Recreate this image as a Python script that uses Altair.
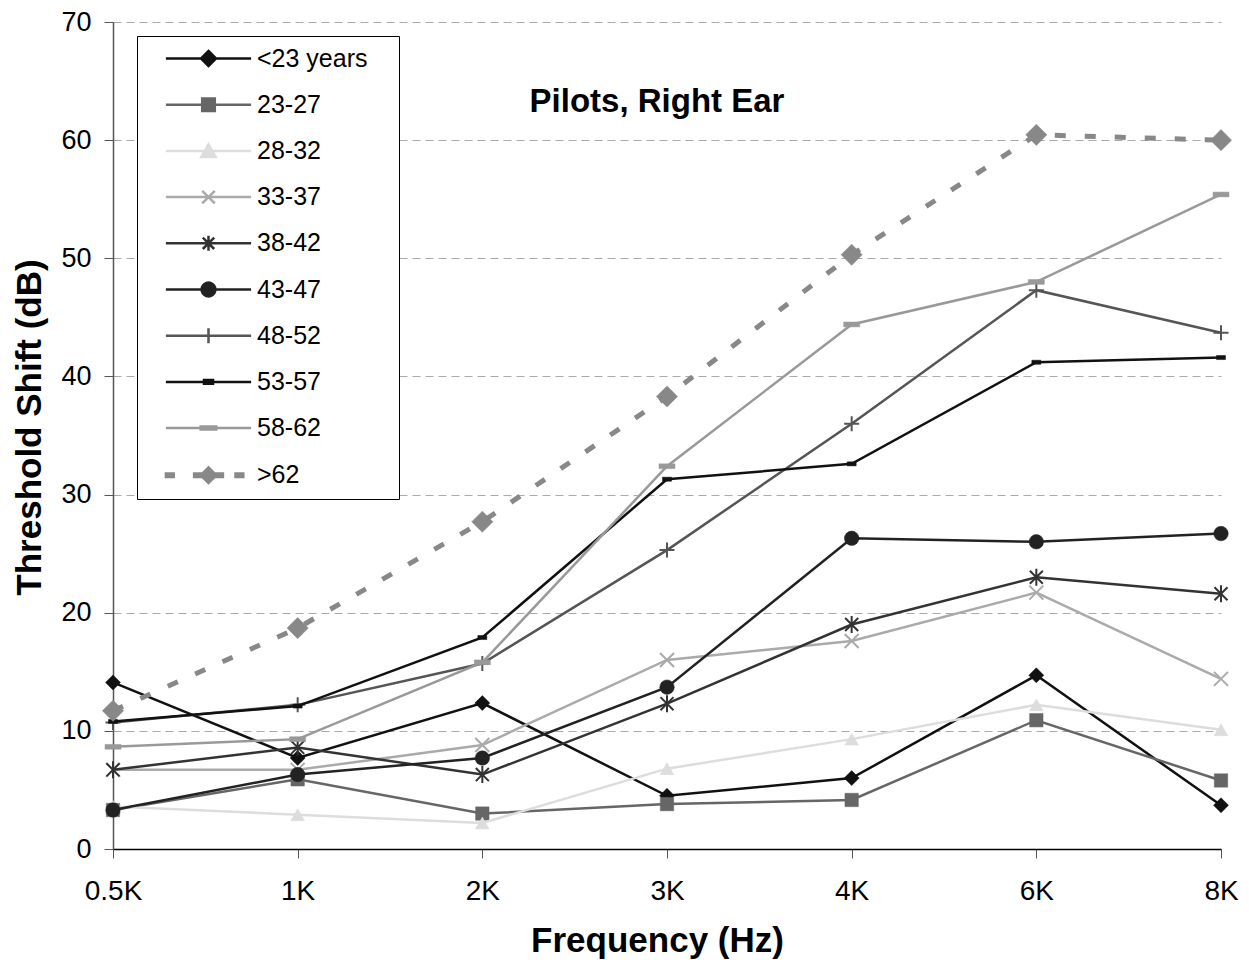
import altair as alt
import pandas as pd
import math

freqs = ["0.5K", "1K", "2K", "3K", "4K", "6K", "8K"]
series = ["<23 years", "23-27", "28-32", "33-37", "38-42", "43-47", "48-52", "53-57", "58-62", ">62"]

v_lt23 = [14.1, 7.7, 12.35, 4.5, 6.0, 14.7, 3.7]
v_23_27 = [3.3, 5.9, 3.0, 3.8, 4.15, 10.9, 5.8]
v_28_32 = [3.6, 2.9, 2.2, 6.8, 9.3, 12.2, 10.1]
v_33_37 = [6.7, 6.7, 8.8, 16.0, 17.6, 21.7, 14.4]
v_38_42 = [6.7, 8.6, 6.3, 12.3, 19.0, 23.0, 21.6]
v_43_47 = [3.3, 6.3, 7.7, 13.7, 26.3, 26.0, 26.7]
v_48_52 = [10.7, 12.2, 15.7, 25.3, 36.0, 47.3, 43.7]
v_53_57 = [10.8, 12.1, 17.9, 31.3, 32.6, 41.2, 41.6]
v_58_62 = [8.65, 9.3, 15.8, 32.4, 44.4, 48.0, 55.4]
v_gt62 = [11.7, 18.7, 27.7, 38.3, 50.3, 60.45, 60.0]

all_values = [v_lt23, v_23_27, v_28_32, v_33_37, v_38_42, v_43_47, v_48_52, v_53_57, v_58_62, v_gt62]

line_colors = ["#111111", "#666666", "#dddddd", "#aaaaaa", "#333333", "#222222", "#555555", "#111111", "#999999", "#888888"]

rows = []
for s, vals in zip(series, all_values):
    for i, (f, v) in enumerate(zip(freqs, vals)):
        rows.append({"freq": f, "series": s, "value": v, "idx": i})
df = pd.DataFrame(rows)

FONT = "Liberation Sans"

# marker styles for plot points
X_PATH = "M-1,-1L1,1M-1,1L1,-1"
AST_PATH = "M-1,-1L1,1M-1,1L1,-1M0,-1.3L0,1.3"
PLUS_PATH = "M-1,0L1,0M0,-1L0,1"
SMALL_DASH = "M-1,-0.45L1,-0.45L1,0.45L-1,0.45Z"
WIDE_DASH = "M-1,-0.3L1,-0.3L1,0.3L-1,0.3Z"
markers = [
    dict(shape="diamond", size=225, filled=True),
    dict(shape="square", size=180, filled=True),
    dict(shape="triangle-up", size=190, filled=True),
    dict(shape=X_PATH, size=196, filled=False),
    dict(shape=AST_PATH, size=170, filled=False),
    dict(shape="circle", size=210, filled=True),
    dict(shape=PLUS_PATH, size=225, filled=False),
    dict(shape=SMALL_DASH, size=81, filled=True),
    dict(shape=WIDE_DASH, size=256, filled=True),
    dict(shape="diamond", size=450, filled=True),
]

# legend symbol paths (line + marker), unit = 6px
def poly_circle(r, n=20):
    pts = [(r * math.cos(2 * math.pi * k / n), r * math.sin(2 * math.pi * k / n)) for k in range(n)]
    return "M" + "L".join(f"{x:.3f},{y:.3f}" for x, y in pts) + "Z"

def rect(x0, x1, h):
    return f"M{x0},{-h}L{x1},{-h}L{x1},{h}L{x0},{h}Z"

L = "M-7.1,0L7.1,0"
legend_paths = [
    # trailing move-to (draws nothing) widens the legend box to the reference's width
    L + "M0,-1.25L1.25,0L0,1.25L-1.25,0Z" + "M29.1,0",
    L + "M-1.05,-1.05L1.05,-1.05L1.05,1.05L-1.05,1.05Z",
    L + "M0,-1.1L1.2,1.0L-1.2,1.0Z",
    L + "M-1.05,-1.05L1.05,1.05M-1.05,1.05L1.05,-1.05",
    L + "M-0.95,-0.95L0.95,0.95M-0.95,0.95L0.95,-0.95M0,-1.25L0,1.25",
    L + poly_circle(1.15),
    L + "M0,-1.25L0,1.25",
    L + rect(-0.75, 0.75, 0.3),
    L + rect(-1.3, 1.3, 0.25),
    rect(-7.1, -5.8, 0.3) + rect(-2.4, -1.3, 0.3) + rect(1.3, 2.4, 0.3) + rect(4.5, 5.8, 0.3)
    + "M0,-1.3L1.3,0L0,1.3L-1.3,0Z",
]

x_enc = alt.X(
    "freq:N",
    sort=freqs,
    scale=alt.Scale(type="point", padding=0, domain=freqs),
    axis=alt.Axis(
        title="Frequency (Hz)", titleFont=FONT, titleFontSize=35, titleFontWeight="bold",
        titleColor="black", titlePadding=18, titleX=544,
        labelFont=FONT, labelFontSize=28, labelColor="black", labelAngle=0, labelPadding=19,
        tickSize=9, tickColor="#555555", tickWidth=1,
        domainColor="black", domainWidth=1.5, grid=False,
    ),
)
y_enc = alt.Y(
    "value:Q",
    scale=alt.Scale(domain=[0, 70], nice=False, zero=True),
    axis=alt.Axis(
        title="Threshold Shift (dB)", titleFont=FONT, titleFontSize=35, titleFontWeight="bold",
        titleColor="black", titlePadding=13, titleY=405,
        values=[0, 10, 20, 30, 40, 50, 60, 70],
        labelFont=FONT, labelFontSize=27, labelColor="black", labelPadding=13,
        tickSize=9, tickColor="#555555",
        domainColor="#555555", domainWidth=1.5,
        grid=True, gridDash=[8, 5], gridColor="#aaaaaa", gridWidth=1,
    ),
)

layers = []
for s, col, m in zip(series, line_colors, markers):
    sub = alt.Chart(df).transform_filter(alt.datum.series == s)
    if s == ">62":
        line = sub.mark_line(strokeWidth=5, strokeDash=[11, 19], color=col)
    else:
        line = sub.mark_line(strokeWidth=2.5, color=col)
    layers.append(line.encode(x=x_enc, y=y_enc, order=alt.Order("idx:Q")))
    if m["filled"]:
        props = dict(shape=m["shape"], size=m["size"], filled=True,
                     fill=col, stroke=col, strokeWidth=0.5, opacity=1)
    else:
        props = dict(shape=m["shape"], size=m["size"], filled=False,
                     stroke=col, strokeWidth=2, opacity=1)
    layers.append(sub.mark_point(**props).encode(x=x_enc, y=y_enc))

# invisible layer whose only purpose is the legend (line + marker symbols)
legend_layer = alt.Chart(df).transform_filter(alt.datum.freq == "0.5K").mark_point(
    filled=True, size=144, strokeWidth=2.5, opacity=0
).encode(
    x=x_enc, y=y_enc,
    shape=alt.Shape("series:N", scale=alt.Scale(domain=series, range=legend_paths),
                    legend=alt.Legend(
                        title=None,
                        orient="none", legendX=24, legendY=14,
                        strokeColor="black", fillColor="white", padding=10,
                        labelFont=FONT, labelFontSize=25, labelColor="black", labelLimit=400,
                        symbolSize=144, symbolStrokeWidth=2.5, symbolOpacity=1,
                        symbolOffset=49, labelOffset=36, rowPadding=20.2,
                    )),
    stroke=alt.Stroke("series:N", scale=alt.Scale(domain=series, range=line_colors),
                      legend=alt.Legend(title=None)),
    fill=alt.Fill("series:N", scale=alt.Scale(domain=series, range=line_colors),
                  legend=alt.Legend(title=None)),
)

chart = alt.layer(*layers, legend_layer).properties(
    width=1108, height=827,
    autosize=alt.AutoSizeParams(type="none"),
    padding={"left": 105, "top": 14, "right": 20, "bottom": 110},
    title=alt.Title("Pilots, Right Ear", font=FONT, fontSize=33, fontWeight="bold", color="black",
                    anchor="middle", frame="group", offset=-137, baseline="alphabetic", dx=-10),
    background="white",
).configure_view(stroke=None)

chart.save("out.html", embed_options={"renderer": "svg", "actions": False})
